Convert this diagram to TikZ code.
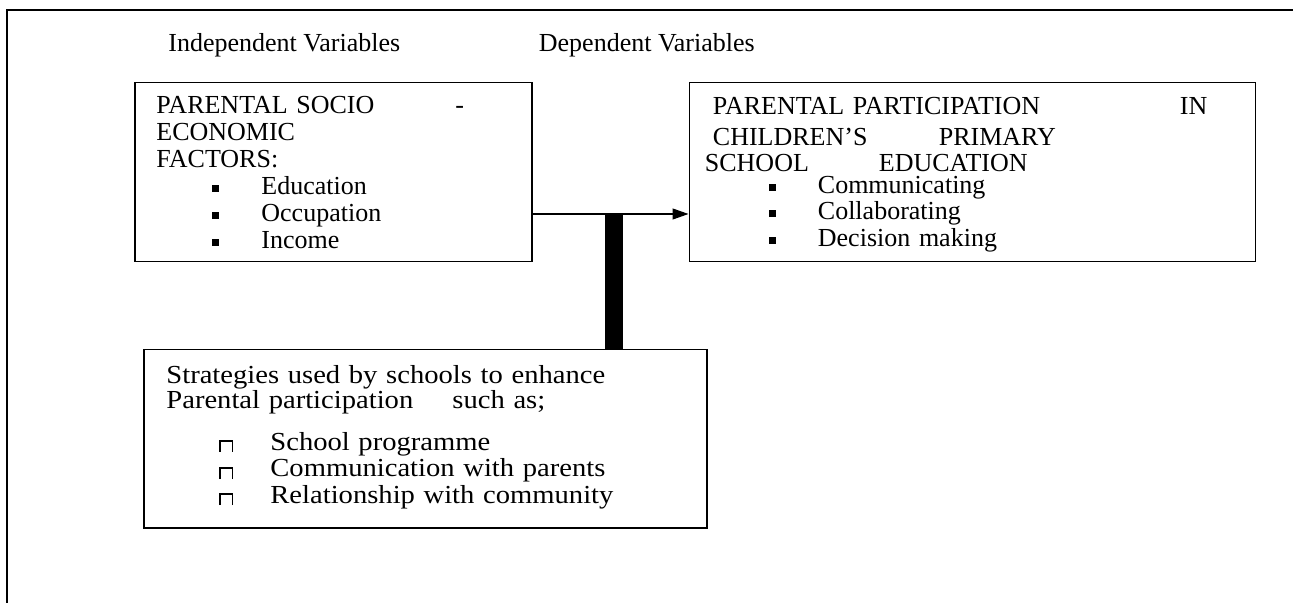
\documentclass[tikz,border=0pt]{standalone}
\usepackage{fontspec}
\setmainfont{Liberation Serif}
\newfontfamily\widefont[FakeStretch=1.1]{Liberation Serif}
\usetikzlibrary{positioning,arrows.meta}
\newcommand{\sqitem}[1]{\makebox[52.5pt][l]{\hspace{28pt}\rule[1.5pt]{3.3pt}{3.3pt}}#1}
\newcommand{\capmark}{\rule[-1pt]{0.8pt}{6pt}\rule[4.2pt]{5.4pt}{0.9pt}\rule[-1pt]{0.8pt}{6pt}}
\newcommand{\capitem}[1]{\makebox[52pt][l]{\hspace{26.5pt}\capmark}#1}

\begin{document}
\begin{tikzpicture}[x=0.5pt,y=-0.5pt,
  varbox/.style={draw,line width=0.75pt,inner sep=0pt,anchor=north west,minimum height=89.5pt},
  boxtext/.style={anchor=base west,inner sep=0pt,text width=260pt,align=left,
    font=\fontsize{13pt}{13.5pt}\selectfont},
  headtext/.style={anchor=base west,inner sep=0pt,font=\fontsize{13pt}{13.5pt}\selectfont}]

  \useasboundingbox (0,0) rectangle (1293,603);

  % draw outer frame
  \draw[line width=1pt] (7,603) |- (1293,10);

  % draw boxes
  \node[varbox,minimum width=198.5pt] (indep) at (134,82) {};
  \node[varbox,minimum width=283pt,right=78pt of indep] (dep) {};
  \node[varbox,minimum width=281.5pt,minimum height=89pt] (strat) at (143,349) {};

  % headings
  \node[headtext] (indeplbl) at ([shift={(34,-30)}]indep.north west) {Independent Variables};
  \node[headtext] (deplbl) at ([shift={(6,-30)}]indep.north east) {Dependent Variables};

  % text for boxes
  \node[boxtext] (indeptxt) at ([shift={(22,32)}]indep.north west)
    {\makebox[149.5pt][l]{PARENTAL SOCIO}-\\
     ECONOMIC\\
     FACTORS:\\
     \sqitem{Education}\\
     \sqitem{Occupation}\\
     \sqitem{Income}};

  \node[boxtext] (deptxt) at ([shift={(24,33)}]dep.north west)
    {\makebox[233.5pt][l]{PARENTAL PARTICIPATION}IN\\[2pt]
     \makebox[113pt][l]{CHILDREN’S}PRIMARY\\[-0.5pt]
     \hspace*{-4pt}\makebox[87pt][l]{SCHOOL}EDUCATION\\[-2.5pt]
     \sqitem{Communicating}\\[-0.5pt]
     \sqitem{Collaborating}\\
     \sqitem{Decision making}};

  \node[boxtext,font=\widefont\fontsize{13pt}{13pt}\selectfont] (strattxt)
    at ([shift={(23,35)}]strat.north west)
    {Strategies used by schools to enhance\\[-0.5pt]
     \makebox[143pt][l]{Parental participation}such as;\\[7.5pt]
     \capitem{School programme}\\[0.5pt]
     \capitem{Communication with parents}\\
     \capitem{Relationship with community}};

  % draw links
  \coordinate (link) at (614,214);
  \draw[-{Triangle[length=8pt,width=5.5pt]},line width=0.6pt] (indep.east |- link) -- (dep.west |- link);
  \draw[line width=9pt] (strat.north -| link) -- (link);

\end{tikzpicture}
\end{document}
